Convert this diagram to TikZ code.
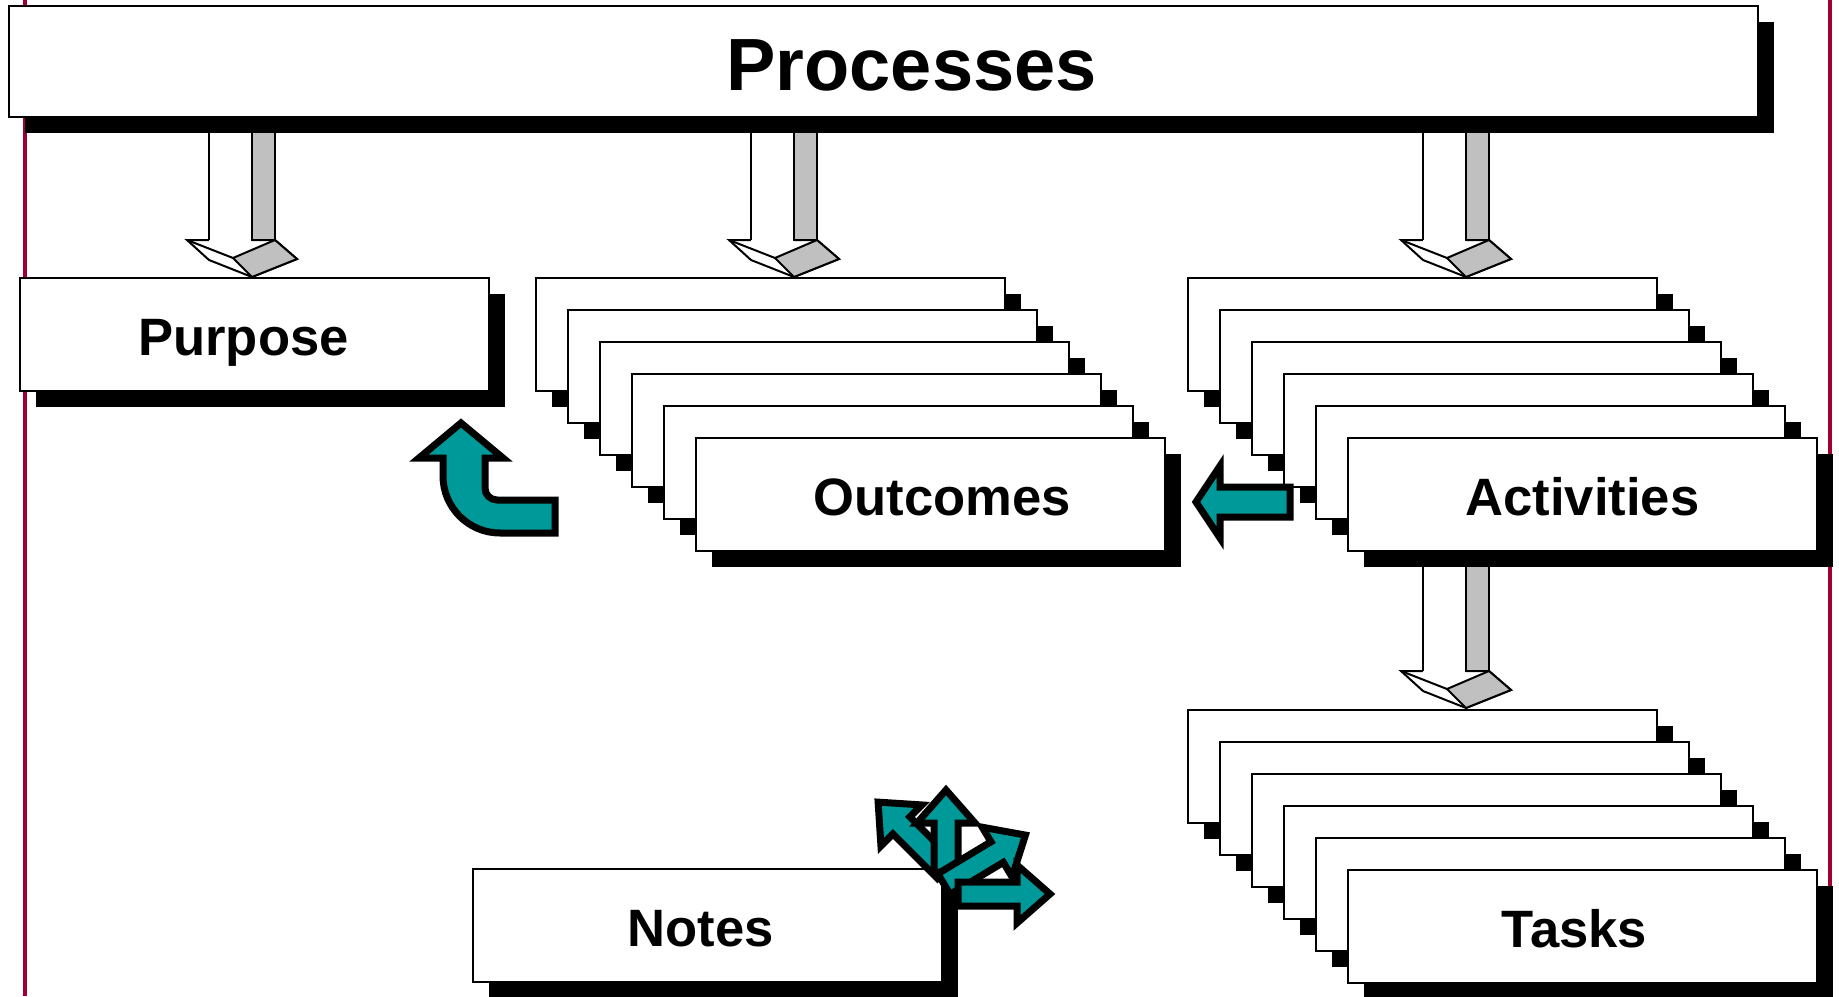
\documentclass[tikz,border=0pt]{standalone}
\usepackage{fontspec}
\setmainfont{Liberation Sans}
\usetikzlibrary{shadows}
\definecolor{arrowteal}{RGB}{0,153,153}
\definecolor{framered}{RGB}{160,0,48}
\definecolor{silver}{RGB}{192,192,192}

\tikzset{
  box/.style={draw, fill=white, line width=2pt, minimum width=469pt, minimum height=113pt, inner sep=0pt,
    drop shadow={shadow xshift=16pt, shadow yshift=-16pt, opacity=1, fill=black}},
  lbl/.style={font=\fontsize{52.6}{60}\selectfont\bfseries, inner sep=0pt, text height=42.7pt, text depth=0pt},
  tealshape/.style={draw=black, fill=arrowteal, line width=7pt, line join=miter}
}

% 3D arrow: #1 = x of tip, #2 = top of shaft, #3 = bottom of shaft
\newcommand{\fatdown}[3]{
  \draw[fill=white] (#1-65,#3) -- (#1+23,#3) -- (#1+45,#3+19) -- (#1,#3+37) -- (#1-43,#3+20) -- cycle;
  \draw[fill=silver] (#1-19,#3+18) -- (#1+23,#3) -- (#1+45,#3+19) -- (#1,#3+37) -- cycle;
  \draw (#1-65,#3) -- (#1-19,#3+18);
  \fill[white] (#1-43,#2) rectangle (#1,#3+1.5);
  \draw (#1-43,#2) -- (#1-43,#3);
  \draw[fill=silver] (#1,#2) rectangle (#1+23,#3);
}

% teal arrow: #1,#2 = tail, #3 = angle, #4 = length
\newcommand{\tealarrow}[4]{
  \begin{scope}[shift={(#1,#2)},rotate=#3]
    \draw[tealshape] (0,-12) -- (#4-33,-12) -- (#4-33,-29) -- (#4,0) -- (#4-33,29) -- (#4-33,12) -- (0,12) -- cycle;
  \end{scope}
}

\begin{document}
\begin{tikzpicture}[x=1pt, y=-1pt, line width=2pt]
\useasboundingbox (0,0) rectangle (1839,996);
\draw [framered, line width=4pt] (25,0) -- (25,996);
\draw [framered, line width=4pt] (1830,0) -- (1830,996);

\fatdown{252}{125}{240}
\fatdown{794}{125}{240}
\fatdown{1466}{125}{240}
\fatdown{1466}{555}{671}

\node[box, minimum width=1749pt, minimum height=111pt] (processes) at (883.5,61.5) {};
\node[box] (purpose) at (254.5,334.5) {};
\foreach \i in {0,...,5}
  \node[box] (out\i) at (770.5+32*\i, 334.5+32*\i) {};
\foreach \i in {0,...,5}
  \node[box] (act\i) at (1422.5+32*\i, 334.5+32*\i) {};
\foreach \i in {0,...,5}
  \node[box] (task\i) at (1422.5+32*\i, 766.5+32*\i) {};
\node[box] (notes) at (707.5,925.5) {};

\node[lbl, font=\fontsize{74}{80}\selectfont\bfseries, text height=58pt] (processesLbl) at ([xshift=28pt]processes.center) {Processes};
\node[lbl] (purposeLbl) at ([xshift=-11pt]purpose.center) {Purpose};
\node[lbl] (outLbl) at ([xshift=12pt]out5.center) {Outcomes};
\node[lbl] (actLbl) at (act5.center) {Activities};
\node[lbl] (taskLbl) at ([xshift=-8pt]task5.center) {Tasks};
\node[lbl] (notesLbl) at ([xshift=-7pt]notes.center) {Notes};

\draw[tealshape] (461,423) -- (503,458) -- (485,458) -- (485,488) arc[start angle=180, end angle=270, radius=12pt]
  -- (555,500) -- (555,533) -- (500,533) arc[start angle=270, end angle=180, radius=57pt] -- (443,458) -- (419,458) -- cycle;
\draw[tealshape] (1196,502) -- (1220,466) -- (1220,487) -- (1290,487) -- (1290,517) -- (1220,517) -- (1220,538) -- cycle;

\tealarrow{946}{870}{135}{96}
\tealarrow{946}{872}{90}{82}
\tealarrow{944}{884}{31}{95}
\tealarrow{958}{894}{0}{92}
\end{tikzpicture}
\end{document}
